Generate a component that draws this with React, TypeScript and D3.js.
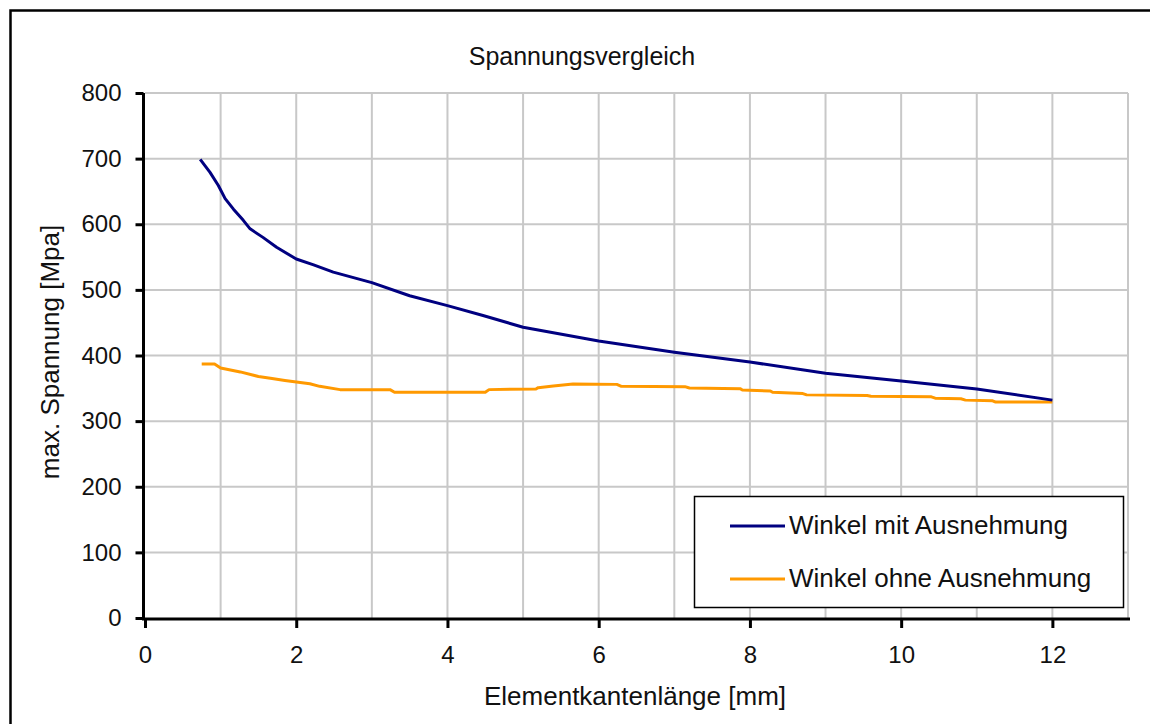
import React, { useEffect, useRef } from 'react';
import * as d3 from 'd3';

// series
const mitX = [0.73, 0.86, 0.97, 1.06, 1.17, 1.3, 1.39, 1.56, 1.74, 2.0, 2.23, 2.49, 3.0, 3.5, 4.0, 4.47, 5.0, 6.0, 7.0, 8.0, 9.0, 10.0, 11.0, 12.0];
const mitY = [699, 679, 659, 639, 623, 606, 593, 580, 565, 547, 538, 527, 511, 491, 476, 461, 443, 422, 405, 390, 373, 361, 349, 332];

const ohneX = [0.75, 0.92, 1.0, 1.26, 1.5, 1.68, 1.85, 2.18, 2.31, 2.58, 3.24, 3.3, 4.5, 4.55, 5.17, 5.2, 5.4, 5.66, 6.24, 6.3, 7.14, 7.2, 7.87, 7.9, 8.27, 8.3, 8.7, 8.75, 9.55, 9.6, 10.4, 10.45, 10.79, 10.85, 11.21, 11.25, 12.0];
const ohneY = [387, 387, 381, 375, 368, 365, 362, 357, 353, 348, 348, 344, 344, 348, 349, 351, 353.5, 356.5, 356, 353, 352.5, 350.5, 349.5, 347.5, 346, 344, 342, 340, 339, 338, 337, 335, 334, 332, 331, 329, 329];

const seriesNames = ['Winkel mit Ausnehmung', 'Winkel ohne Ausnehmung'];
const seriesColors = ['#000080', '#ff9900'];

const xTicks = [0, 2, 4, 6, 8, 10, 12];
const yTicks = [0, 100, 200, 300, 400, 500, 600, 700, 800];

const W = 1150;
const H = 724;
const FONT = '"Liberation Sans", Arial, sans-serif';

const App: React.FC = () => {
  const svgRef = useRef<SVGSVGElement | null>(null);

  useEffect(() => {
    if (!svgRef.current) return;
    const svg = d3.select(svgRef.current);
    svg.selectAll('*').remove();

    const x = d3.scaleLinear().domain([0, 13]).range([145, 1128]);
    const y = d3.scaleLinear().domain([0, 800]).range([618, 93]);

    // outer frame (right/bottom edges fall outside the picture)
    svg.append('rect')
      .attr('x', 10.5).attr('y', 10.5)
      .attr('width', 1300).attr('height', 900)
      .attr('fill', 'white')
      .attr('stroke', 'black')
      .attr('stroke-width', 2.5);

    // grid
    const grid = svg.append('g').attr('stroke', '#c8c8c8').attr('stroke-width', 2);
    d3.range(1, 14).forEach((v) => {
      grid.append('line')
        .attr('x1', x(v)).attr('x2', x(v))
        .attr('y1', y(0)).attr('y2', y(800));
    });
    yTicks.slice(1).forEach((v) => {
      grid.append('line')
        .attr('x1', x(0)).attr('x2', x(13))
        .attr('y1', y(v)).attr('y2', y(v));
    });

    // series
    const line = d3.line<[number, number]>()
      .x((d) => x(d[0]))
      .y((d) => y(d[1]));

    const series: [number, number][][] = [
      mitX.map((v, i) => [v, mitY[i]]),
      ohneX.map((v, i) => [v, ohneY[i]]),
    ];
    // draw orange first so the navy line sits on top at the right end
    [1, 0].forEach((i) => {
      svg.append('path')
        .datum(series[i])
        .attr('d', line)
        .attr('fill', 'none')
        .attr('stroke', seriesColors[i])
        .attr('stroke-width', 3)
        .attr('stroke-linejoin', 'round');
    });

    // axes
    const yAxis = svg.append('g')
      .attr('transform', `translate(${x(0) - 1.5},0)`)
      .call(d3.axisLeft(y).tickValues(yTicks).tickSize(8).tickPadding(14).tickFormat(d3.format('d')));
    const xAxis = svg.append('g')
      .attr('transform', `translate(0,${y(0) + 1})`)
      .call(d3.axisBottom(x).tickValues(xTicks).tickSize(9).tickPadding(18).tickFormat(d3.format('d')));

    [yAxis, xAxis].forEach((a) => {
      a.select('.domain').attr('stroke', 'black').attr('stroke-width', 3);
      a.selectAll('.tick line').attr('stroke', 'black').attr('stroke-width', 3);
      a.selectAll('.tick text')
        .attr('fill', '#111')
        .style('font-family', FONT)
        .style('font-size', '24px');
    });
    xAxis.select('.domain').attr('d', `M${x(0) - 3},0H${x(13) + 2}`);
    yAxis.select('.domain').attr('d', `M0,${y(800)}V${y(0) + 2}`);

    // titles
    svg.append('text')
      .attr('x', 582).attr('y', 65)
      .attr('text-anchor', 'middle')
      .style('font-family', FONT).style('font-size', '25px')
      .attr('fill', '#111')
      .text('Spannungsvergleich');

    svg.append('text')
      .attr('x', 635).attr('y', 705)
      .attr('text-anchor', 'middle')
      .style('font-family', FONT).style('font-size', '26px')
      .attr('fill', '#111')
      .text('Elementkantenlänge [mm]');

    svg.append('text')
      .attr('transform', 'translate(59,352) rotate(-90)')
      .attr('text-anchor', 'middle')
      .style('font-family', FONT).style('font-size', '26px')
      .attr('fill', '#111')
      .text('max. Spannung [Mpa]');

    // legend
    const legend = svg.append('g');
    legend.append('rect')
      .attr('x', 694.5).attr('y', 496.5)
      .attr('width', 429).attr('height', 111)
      .attr('fill', 'white')
      .attr('stroke', 'black')
      .attr('stroke-width', 1.5);

    seriesNames.forEach((name, i) => {
      const cy = 526 + i * 53;
      legend.append('line')
        .attr('x1', 730).attr('x2', 785)
        .attr('y1', cy).attr('y2', cy)
        .attr('stroke', seriesColors[i])
        .attr('stroke-width', 3);
      legend.append('text')
        .attr('x', 789).attr('y', cy + 8)
        .style('font-family', FONT).style('font-size', '26px')
        .attr('fill', '#111')
        .text(name);
    });
  }, []);

  return (
    <svg
      ref={svgRef}
      width={W}
      height={H}
      style={{ position: 'absolute', left: 0, top: 0, background: 'white' }}
    />
  );
};

export default App;
